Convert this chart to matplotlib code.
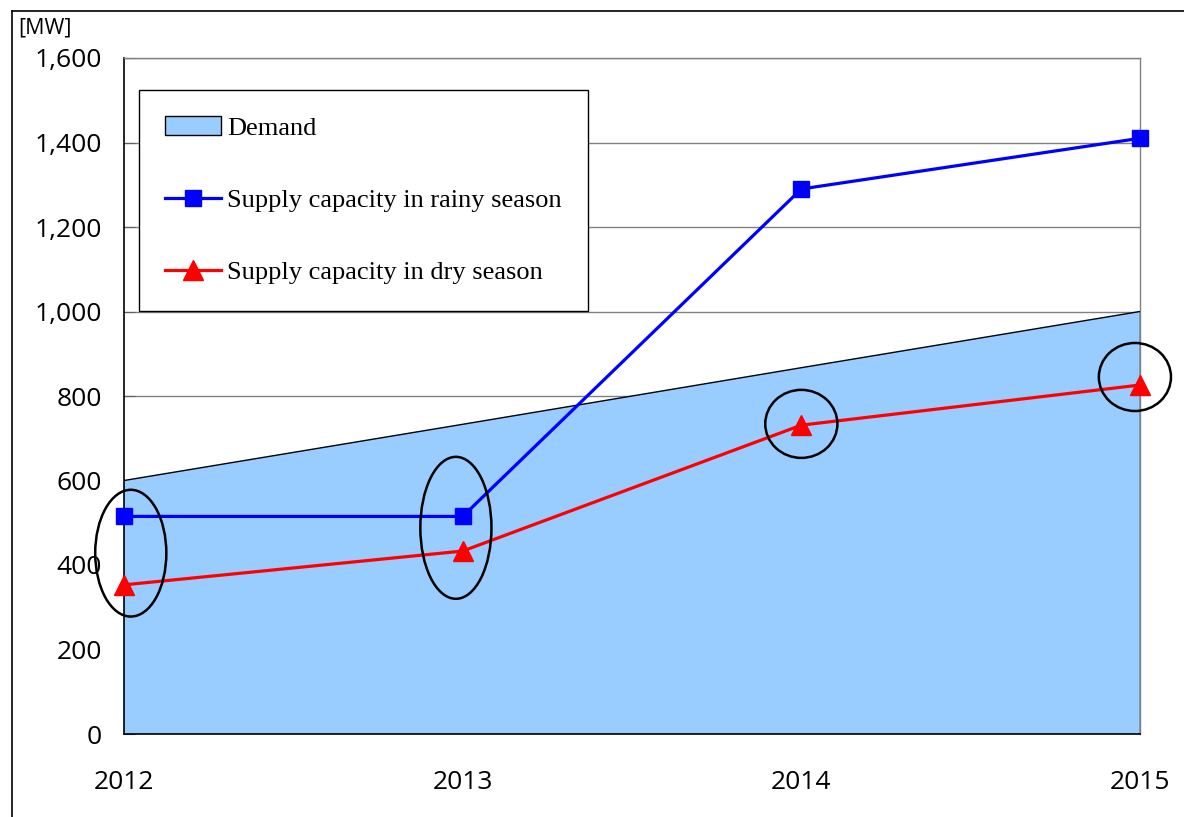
import matplotlib
matplotlib.use("Agg")
import matplotlib.pyplot as plt
from matplotlib.patches import Ellipse, Patch
from matplotlib.lines import Line2D

years = ["2012", "2013", "2014", "2015"]
demand = [600, 733, 867, 1000]
rainy_supply = [515, 515, 1290, 1410]
dry_supply = [353, 433, 731, 826]

# highlighted points: (x index, center value, width in x units, height in MW)
highlight_centers = [(0.02, 428), (0.98, 488), (2.0, 734), (2.985, 845)]
highlight_sizes = [(0.21, 300), (0.21, 336), (0.213, 161), (0.213, 161)]

y_ticks = [0, 200, 400, 600, 800, 1000, 1200, 1400, 1600]

fig = plt.figure(figsize=(11.84, 8.17), dpi=100)
ax = fig.add_axes([124 / 1184, 1 - 734 / 817, 1016 / 1184, 676 / 817])

x = list(range(len(years)))

ax.fill_between(x, 0, demand, facecolor="#99CCFF", edgecolor="none", zorder=2)
ax.plot(x, demand, color="black", lw=1.0, zorder=3)
ax.plot([x[-1], x[-1]], [0, demand[-1]], color="black", lw=1.0, zorder=3)
ax.plot([x[0], x[-1]], [0, 0], color="black", lw=1.2, zorder=3, clip_on=False)

ax.plot(x, rainy_supply, color="#0000FF", lw=2.3, marker="s", markersize=12,
        markerfacecolor="#0000FF", markeredgecolor="#0000FF", zorder=5, clip_on=False)
ax.plot(x, dry_supply, color="#FF0000", lw=2.3, marker="^", markersize=14,
        markerfacecolor="#FF0000", markeredgecolor="#FF0000", zorder=5, clip_on=False)

for (cx, cy), (w, h) in zip(highlight_centers, highlight_sizes):
    ax.add_patch(Ellipse((cx, cy), w, h, fill=False, edgecolor="black", lw=1.8,
                         zorder=6, clip_on=False))

ax.set_xlim(0, 3)
ax.set_ylim(0, 1600)
ax.set_yticks(y_ticks)
ax.set_yticklabels([f"{v:,}" for v in y_ticks])
ax.set_xticks(x)
ax.set_xticklabels(years)

ax.yaxis.grid(True, color="#808080", lw=1.0, zorder=1)
ax.set_axisbelow(True)

ax.tick_params(axis="y", direction="in", length=8, color="#606060", pad=16,
               labelsize=19, labelcolor="black")
ax.tick_params(axis="x", length=0, pad=26, labelsize=19, labelcolor="black")
for lab in ax.get_yticklabels() + ax.get_xticklabels():
    lab.set_family("Open Sans")

ax.spines["left"].set_color("black")
ax.spines["left"].set_linewidth(1.2)
ax.spines["bottom"].set_visible(False)
for s in ("top", "right"):
    ax.spines[s].set_color("#808080")
    ax.spines[s].set_linewidth(1.0)

fig.text(18 / 1184, 1 - 28 / 817, "[MW]", fontsize=15.5, family="Open Sans",
         va="center", ha="left")

handles = [
    Patch(facecolor="#99CCFF", edgecolor="black", lw=1.0),
    Line2D([], [], color="#0000FF", lw=2.3, marker="s", markersize=12),
    Line2D([], [], color="#FF0000", lw=2.3, marker="^", markersize=14),
]
labels = ["Demand", "Supply capacity in rainy season", "Supply capacity in dry season"]
leg = ax.legend(handles, labels, loc="upper left",
                bbox_to_anchor=(15 / 1016, (734 - 90) / 676),
                prop={"family": "Liberation Serif", "size": 19},
                frameon=True, fancybox=False, edgecolor="black", framealpha=1,
                borderpad=1.0, labelspacing=1.85, handlelength=2.1,
                handletextpad=0.25, borderaxespad=0)
leg.get_frame().set_linewidth(1.0)
leg.set_zorder(7)

# outer frame lines
fig.add_artist(Line2D([12 / 1184, 12 / 1184], [0, 1 - 11 / 817], color="black",
                      lw=1.2, transform=fig.transFigure))
fig.add_artist(Line2D([12 / 1184, 1], [1 - 11 / 817, 1 - 11 / 817], color="black",
                      lw=1.2, transform=fig.transFigure))

fig.savefig("out.png", dpi=100)
